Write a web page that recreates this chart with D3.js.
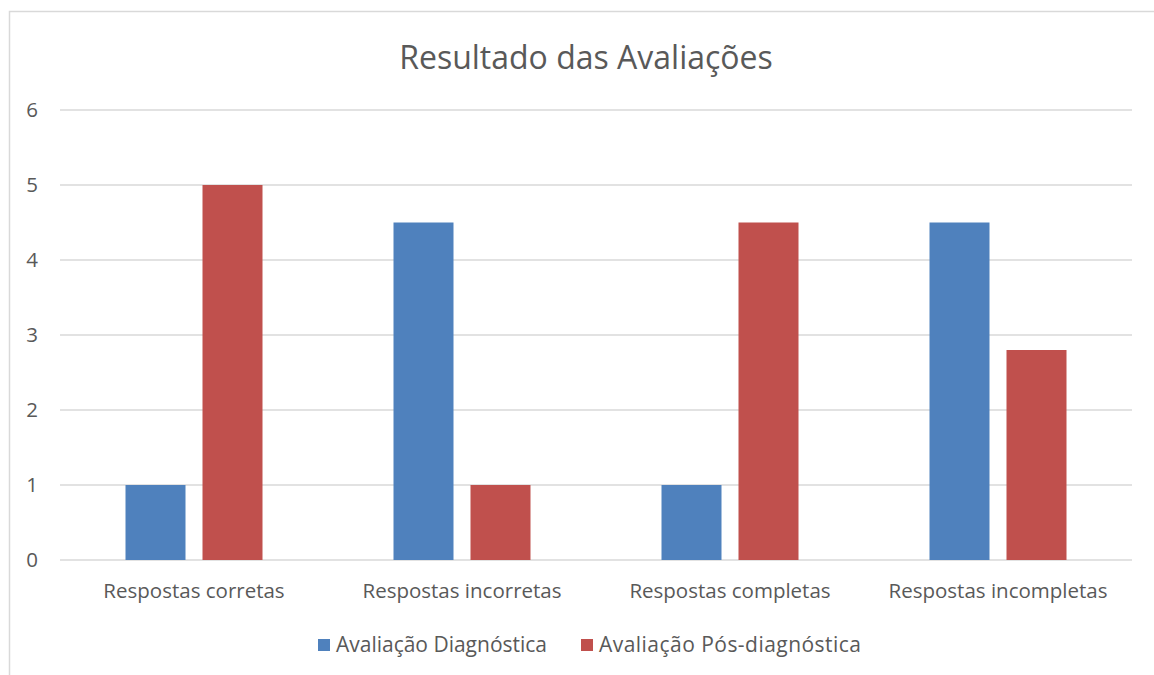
<!DOCTYPE html>
<html>
<head>
<meta charset="utf-8">
<script src="https://cdn.jsdelivr.net/npm/d3@7"></script>
<style>
  body { margin: 0; background: #fff; }
  svg text { font-family: "Open Sans", "Noto Sans", sans-serif; fill: #595959; }
</style>
</head>
<body>
<svg id="chart" width="1154" height="675"></svg>
<script>
const categories = ["Respostas corretas", "Respostas incorretas", "Respostas completas", "Respostas incompletas"];
const seriesNames = ["Avaliação Diagnóstica", "Avaliação Pós-diagnóstica"];
const diagnostica = [1, 4.5, 1, 4.5];
const posDiagnostica = [5, 1, 4.5, 2.8];
const yTicks = [0, 1, 2, 3, 4, 5, 6];
const colors = ["#4f81bd", "#c0504d"];

const svg = d3.select("#chart");
const W = 1154, H = 675;
const m = { left: 60, right: 22, top: 110, bottom: 115 };

// chart frame
svg.append("path")
  .attr("d", `M9.5,${H} V11.5 H${W}`)
  .attr("fill", "none")
  .attr("stroke", "#d9d9d9")
  .attr("stroke-width", 1.5);

const x = d3.scaleBand().domain(categories).range([m.left, W - m.right]);
const y = d3.scaleLinear().domain([0, 6]).range([H - m.bottom, m.top]);

svg.append("g")
  .selectAll("line")
  .data(yTicks)
  .join("line")
  .attr("x1", m.left).attr("x2", W - m.right)
  .attr("y1", d => y(d)).attr("y2", d => y(d))
  .attr("stroke", "#d9d9d9")
  .attr("stroke-width", 1.5);

svg.append("g")
  .selectAll("text")
  .data(yTicks)
  .join("text")
  .attr("x", 32)
  .attr("y", d => y(d))
  .attr("dy", "0.36em")
  .attr("text-anchor", "middle")
  .attr("font-size", 20.5)
  .text(d => d);

const rows = categories.map((c, i) => ({ c, vals: [diagnostica[i], posDiagnostica[i]] }));
const barW = 60, gap = 17;

const groups = svg.append("g")
  .selectAll("g")
  .data(rows)
  .join("g");

groups.selectAll("rect")
  .data(d => d.vals.map((v, k) => ({ c: d.c, v, k })))
  .join("rect")
  .attr("x", d => x(d.c) + x.bandwidth() / 2 + (d.k === 0 ? -gap / 2 - barW : gap / 2))
  .attr("y", d => y(d.v))
  .attr("width", barW)
  .attr("height", d => y(0) - y(d.v))
  .attr("fill", d => colors[d.k]);

svg.append("g")
  .selectAll("text")
  .data(categories)
  .join("text")
  .attr("x", d => x(d) + x.bandwidth() / 2)
  .attr("y", 598)
  .attr("text-anchor", "middle")
  .attr("font-size", 20.5)
  .text(d => d);

svg.append("text")
  .attr("x", 586)
  .attr("y", 69)
  .attr("text-anchor", "middle")
  .attr("font-size", 32)
  .text("Resultado das Avaliações");

const legend = svg.append("g");
const legendX = [318, 581];
seriesNames.forEach((s, i) => {
  legend.append("rect")
    .attr("x", legendX[i]).attr("y", 639)
    .attr("width", 12).attr("height", 12)
    .attr("fill", colors[i]);
  legend.append("text")
    .attr("x", legendX[i] + 18).attr("y", 652)
    .attr("font-size", 21)
    .attr("textLength", i === 0 ? 211 : 262)
    .text(s);
});
</script>
</body>
</html>
